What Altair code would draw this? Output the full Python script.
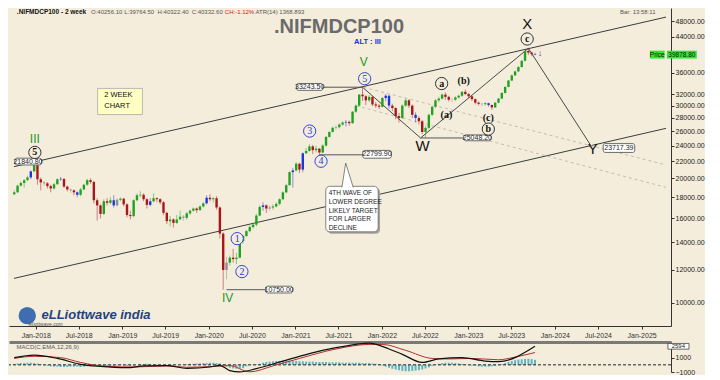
import altair as alt
import pandas as pd

BG = "#F4EDDC"

# ---------------- 2-week OHLC bars ----------------
START = "2017-10-02"
first_open = 18300
closes = [
    18500, 19200, 19500, 19800, 20100, 20800, 21500, 19900, 19550, 19450,
    19150, 18900, 19350, 19900, 19950, 19100, 18800, 18700, 18500, 18250,
    18800, 19300, 19800, 19600, 17700, 17200, 16400, 17600, 17450, 17700,
    17200, 17750, 17850, 17300, 16300, 16200, 17700, 18200, 18250, 17800,
    17250, 17600, 17900, 17800, 17500, 16500, 15750, 15900, 15600, 15900,
    16150, 16050, 16450, 16700, 16900, 16750, 17100, 17400, 17950, 17800,
    17900, 17000, 14700, 12000, 12500, 12850, 12750, 12850, 14100, 14500,
    14900, 15250, 15450, 16250, 17050, 17200, 16900, 17000, 17100, 17350,
    17800, 18500, 19250, 20700, 20900, 21700, 21000, 23000, 23300, 23900,
    23400, 23600, 23100, 24000, 25200, 25900, 26500, 26600, 27000, 27300,
    27400, 27200, 29000, 30000, 31900, 31600, 30900, 31500, 30200, 30000,
    29800, 31300, 31700, 30000, 29600, 28300, 28000, 30000, 30900, 30000,
    28500, 28000, 27500, 25900, 26500, 28500, 29800, 30900, 31200, 31900,
    31500, 31000, 31000, 31400, 31700, 32400, 32000, 31600, 31100, 30500,
    30300, 30250, 30400, 30100, 29700, 30500, 31200, 32200, 33300, 34500,
    35500, 36300, 37200, 38500, 40700, 40300, 40000, 39879,
]
highs = [
    18700, 19300, 19650, 19900, 20300, 20900, 21840.8, 21600, 20100, 19700,
    19600, 19300, 19500, 20000, 20150, 19950, 19200, 18900, 18800, 18600,
    18950, 19400, 19950, 20000, 19700, 17900, 17300, 17800, 17900, 18000,
    18200, 17900, 18000, 17950, 17400, 16700, 17800, 18400, 18600, 18400,
    17900, 17900, 18400, 18000, 17900, 17600, 16600, 16200, 16000, 16300,
    16700, 16300, 16600, 16800, 17000, 17000, 17200, 17500, 18200, 18300,
    18000, 18100, 17100, 14800, 12900, 13000, 13500, 13200, 14200, 14600,
    15000, 15400, 15600, 16400, 17200, 17500, 17300, 17200, 17300, 17500,
    17900, 18600, 19400, 20800, 21200, 21900, 21800, 23100, 23700, 24200,
    24100, 24000, 23700, 24200, 25300, 26000, 26700, 26900, 27200, 27500,
    27700, 27600, 29100, 30200, 32000, 33243.5, 31800, 31800, 31600, 30600,
    30300, 31500, 32000, 31900, 30300, 29700, 28800, 30200, 31200, 31100,
    30200, 28900, 28300, 27700, 26800, 28700, 30000, 31100, 31500, 32100,
    32300, 31700, 31300, 31600, 31900, 32500, 32800, 32200, 31700, 31200,
    30700, 30500, 30600, 30500, 30200, 30600, 31300, 32300, 33400, 34600,
    35700, 36500, 37400, 38700, 40800, 41300, 40500, 40322.4,
]
lows = [
    18200, 18450, 19100, 19000, 19700, 19900, 20700, 19300, 18700, 19200,
    18900, 18500, 18800, 19300, 19700, 18950, 18600, 18450, 18200, 18000,
    18100, 18700, 19200, 19400, 17400, 15800, 16000, 16300, 17200, 17300,
    17000, 17100, 17600, 17100, 16100, 15900, 16100, 17600, 18000, 17600,
    16900, 17100, 17500, 17500, 17300, 16300, 15500, 15300, 15200, 15500,
    15900, 15800, 15900, 16300, 16600, 16500, 16700, 17000, 17300, 17600,
    17500, 16800, 14300, 10750, 11400, 12300, 12500, 12400, 12800, 13900,
    14400, 14800, 15100, 15300, 16200, 16700, 16500, 16700, 16800, 17000,
    17200, 17700, 18400, 19200, 19000, 20800, 20600, 20700, 22900, 23200,
    22900, 23100, 22799.9, 23000, 23900, 25100, 25800, 26200, 26400, 26800,
    26700, 26800, 27100, 28800, 29800, 30800, 30100, 30600, 29900, 29600,
    29400, 29700, 30800, 29500, 29100, 27800, 27300, 27900, 29800, 29600,
    28000, 27300, 27000, 25600, 25048.2, 26300, 28300, 29600, 30600, 31000,
    31000, 30700, 30600, 30800, 31200, 31500, 31800, 31300, 30800, 30200,
    30000, 29900, 30000, 29800, 29300, 29600, 30400, 31100, 32100, 33200,
    34400, 35400, 36200, 37100, 38400, 39800, 39500, 39764.5,
]
blue_bars = [5, 14, 19, 30, 41, 58, 75, 84, 87, 100, 112, 113, 121, 143, 157]
gray_bars = [9, 17, 31, 51, 64, 77, 97, 132, 141]

# ---------------- MACD(12,26,9) panel ----------------
hist_vals = [
    150, 200, 250, 250, 300, 300, 250, 200, 100,
    -50, -150, -200, -250, -250, -300, -300, -300, -250, -250, -250, -300, -250, -200, -200,
    -150, -200, -250, -300, -250, -200, -150, -100, -100, -100, -150, -200,
    -100, 0, 100, 100, 150, 100, 50, 50, 0, -50, -100, -150, -100, -50, 0,
    50, 100, 150, 150, 200, 200, 250, 250, 300, 300, 250, 200, 100,
    -200, -400, -500, -550, -500, -450, -200, -50, 50,
    100, 150, 300, 400, 450, 500, 550, 550, 600, 600,
    600, 550, 550, 500, 500, 450, 450, 450, 400, 400,
    400, 400, 350, 350, 350, 350, 300, 300, 300, 300,
    300, 300, 250, 250, 250, 200, 150, 100,
    -100, -250, -400, -550, -650, -750, -850, -900, -900, -850, -800, -750, -650, -500, -350, -150,
    50, 150, 250, 300, 300, 300, 250, 200, 150, 100,
    -50, -100, -150, -200, -250, -250, -250, -200, -150, -50,
    100, 250, 400, 550, 650, 750, 800, 850, 850, 800, 700,
]
macd_idx = [0, 6, 13, 20, 26, 34, 39, 46, 52, 59, 62, 65, 68, 73, 81, 89, 97,
            105, 107, 113, 117, 123, 128, 135, 142, 146, 157]
macd_vals = [1000, 1350, 900, 75, -225, -400, -150, -110, -490, -300, -75, -800,
             -980, -530, 530, 1580, 2400, 2970, 3045, 2220, 1470, 340, 830, 1015,
             530, 450, 2594]
signal_idx = [0, 6, 14, 20, 28, 36, 46, 52, 60, 65, 71, 78, 86, 97, 107, 111,
              118, 126, 131, 138, 146, 151, 157]
signal_vals = [900, 1200, 1015, 340, -225, -300, -150, -340, -225, -110, -980,
               -150, 900, 2220, 2860, 2860, 2030, 900, 830, 900, 715, 1090, 1730]

y_ticks = [10000, 12000, 14000, 16000, 18000, 20000, 22000, 24000, 26000,
           28000, 30000, 32000, 36000, 44000, 48000]

# ---------------- annotation data ----------------
channel_dates = ["2017-10-01", "2025-04-14"]
upper_channel = [21350, 49140]
lower_channel = [11450, 26430]
dash1_dates = ["2021-10-16", "2025-04-14"]
dash1_prices = [33220, 21550]
dash2_dates = ["2021-09-14", "2025-04-14"]
dash2_prices = [29970, 19020]
path_dates = ["2021-10-11", "2022-06-13", "2023-09-11", "2024-05-30"]
path_prices = [33243.5, 25048.2, 41300, 24100]

level_start = ["2021-04-27", "2021-04-12", "2022-06-13", "2020-03-16"]
level_end = ["2021-10-11", "2021-10-11", "2022-12-12", "2020-08-28"]
level_price = [33243.5, 22799.9, 25048.2, 10750]

box_text = ["21840.80", "33243.50", "22799.90", "25048.20", "10750.00", "23717.39"]
box_x0 = ["2017-10-05", "2021-01-05", "2021-10-12", "2022-12-12", "2020-08-28", "2024-07-23"]
box_x1 = ["2018-01-25", "2021-04-27", "2022-02-10", "2023-04-07", "2020-12-20", "2024-12-03"]
box_y0 = [21550, 32670, 22380, 24660, 10555, 23110]
box_y1 = [22380, 33940, 23370, 25480, 10960, 24270]
box_tx = ["2017-11-29", "2021-03-02", "2021-12-11", "2023-02-08", "2020-10-24", "2024-09-27"]
box_ty = [21960, 33300, 22870, 25070, 10760, 23680]

green_txt = ["III", "IV", "V"]
green_dates = ["2017-12-28", "2020-03-21", "2021-10-16"]
green_prices = [24930, 10270, 38200]
black_txt = ["W", "X", "Y"]
black_dates = ["2022-06-22", "2023-09-06", "2024-06-09"]
black_prices = [24010, 47180, 23490]
cblue_txt = ["1", "2", "3", "4", "5"]
cblue_dates = ["2020-04-30", "2020-05-20", "2021-03-02", "2021-04-19", "2021-10-20"]
cblue_prices = [14290, 11890, 26030, 22000, 34860]
cblack_txt = ["5", "a", "c", "b"]
cblack_dates = ["2017-12-28", "2022-09-10", "2023-09-06", "2023-03-26"]
cblack_prices = [23110, 33930, 43490, 26320]
paren_txt = ["(a)", "(b)", "(c)"]
paren_dates = ["2022-09-30", "2022-12-12", "2023-03-26"]
paren_prices = [28540, 34480, 27930]

callout_lines = ["4TH WAVE OF", "LOWER DEGREE", "LIKELY TARGET", "FOR LARGER", "DECLINE"]
callout_prices = [18430, 17550, 16710, 15920, 15160]

header_items = ["O:40256.10", "L:39764.50", "H:40322.40", "C:40332.60", "ATR(14) 1368.893"]
header_dates = ["2018-08-22", "2019-01-09", "2019-05-30", "2019-10-21", "2020-07-16"]

# ---------------- frames ----------------
dates = pd.date_range(START, periods=len(closes), freq="14D")
opens = [first_open] + closes[:-1]
kinds = []
for i, (o, c) in enumerate(zip(opens, closes)):
    if i in blue_bars:
        kinds.append("blue")
    elif i in gray_bars:
        kinds.append("gray")
    elif c >= o:
        kinds.append("up")
    else:
        kinds.append("down")
candles = pd.DataFrame({"date": dates, "open": opens, "close": closes,
                        "high": highs, "low": lows, "kind": kinds})

D = pd.to_datetime
W, H = 662, 318

xscale = alt.Scale(domain=[alt.DateTime(year=2017, month=10, date=1),
                           alt.DateTime(year=2025, month=4, date=14)])
yscale = alt.Scale(type="log", domain=[8780, 51700], nice=False)
cscale = alt.Scale(domain=["up", "down", "blue", "gray"],
                   range=["#22A022", "#A8161A", "#1F35D8", "#8E8E8E"])

xvals = [alt.DateTime(year=y, month=m, date=1)
         for y in range(2018, 2026) for m in (1, 7) if not (y == 2025 and m == 7)]
x_axis = alt.Axis(values=xvals, format="%b-%Y", labelFontSize=7, tickSize=3,
                  labelPadding=2, domainColor="#333", tickColor="#333",
                  labelColor="#333", labelOverlap=False, labelFlush=False,
                  title=None, grid=False)
y_axis = alt.Axis(orient="right", values=y_ticks, format=".2f", labelFontSize=7,
                  tickSize=3, labelPadding=1, domainColor="#333", tickColor="#333",
                  labelColor="#222", labelOverlap=False, title=None, grid=False)


def X(f="date"):
    return alt.X(f"{f}:T", scale=xscale, axis=x_axis)


def Y(f="price"):
    return alt.Y(f"{f}:Q", scale=yscale, axis=y_axis)


# lines
chan = pd.DataFrame({"date": D(channel_dates * 2),
                     "price": upper_channel + lower_channel,
                     "id": ["u", "u", "l", "l"]})
chan_l = alt.Chart(chan).mark_line(color="#3C3C3C", strokeWidth=1).encode(
    x=X(), y=Y(), detail="id:N")
dash = pd.DataFrame({"date": D(dash1_dates + dash2_dates),
                     "price": dash1_prices + dash2_prices,
                     "id": ["a", "a", "b", "b"]})
dash_l = alt.Chart(dash).mark_line(color="#C4BDB0", strokeWidth=1, strokeDash=[3, 3]).encode(
    x=X(), y=Y(), detail="id:N")
path = pd.DataFrame({"date": D(path_dates), "price": path_prices})
path_l = alt.Chart(path).mark_line(color="#4A4A4A", strokeWidth=1).encode(x=X(), y=Y())
lev = pd.DataFrame({"d0": D(level_start), "d1": D(level_end), "price": level_price})
lev_l = alt.Chart(lev).mark_rule(color="#555", strokeWidth=1).encode(
    x=X("d0"), x2="d1:T", y=Y())

# candles
wicks = alt.Chart(candles).mark_rule(strokeWidth=1, opacity=0.5).encode(
    x=X(), y=Y("low"), y2="high:Q",
    color=alt.Color("kind:N", scale=cscale, legend=None))
bodies = alt.Chart(candles).mark_bar(size=2.4).encode(
    x=X(), y=Y("open"), y2="close:Q",
    color=alt.Color("kind:N", scale=cscale, legend=None))

# value boxes
boxes = pd.DataFrame({"x0": D(box_x0), "x1": D(box_x1), "y0": box_y0, "y1": box_y1,
                      "tx": D(box_tx), "ty": box_ty, "t": box_text})
box_r = alt.Chart(boxes).mark_rect(fill="white", stroke="#444", strokeWidth=0.8,
                                   cornerRadius=2).encode(
    x=X("x0"), x2="x1:T", y=Y("y0"), y2="y1:Q")
box_t = alt.Chart(boxes).mark_text(fontSize=7, color="#222").encode(
    x=X("tx"), y=Y("ty"), text="t:N")


def labels(txts, ds, ps, **kw):
    df = pd.DataFrame({"date": D(ds), "price": ps, "t": txts})
    return alt.Chart(df).mark_text(**kw).encode(x=X(), y=Y(), text="t:N")


def circles(ds, ps, stroke):
    df = pd.DataFrame({"date": D(ds), "price": ps})
    return alt.Chart(df).mark_point(shape="circle", size=150, filled=True, fill=BG,
                                    stroke=stroke, strokeWidth=1, opacity=1).encode(x=X(), y=Y())


green_l = labels(green_txt, green_dates, green_prices, fontSize=12, color="#1E9A1E")
black_l = labels(black_txt, black_dates, black_prices, fontSize=15, color="#111")
cb_c = circles(cblue_dates, cblue_prices, "#3046E0")
cb_t = labels(cblue_txt, cblue_dates, cblue_prices, fontSize=10, color="#2238D8",
              font="Liberation Serif")
ck_c = circles(cblack_dates, cblack_prices, "#333")
ck_t = labels(cblack_txt, cblack_dates, cblack_prices, fontSize=10, color="#111",
              font="Liberation Serif", fontWeight="bold")
par_t = labels(paren_txt, paren_dates, paren_prices, fontSize=10, color="#111",
               font="Liberation Serif", fontWeight="bold")
alt_t = labels(["ALT : III"], ["2021-11-01"], [42800], fontSize=7.5, color="#1A2FE0",
               fontWeight="bold")
title_t = labels([".NIFMDCP100"], ["2021-07-04"], [46500], fontSize=20, color="#6A6A6A",
                 fontWeight="bold")
arrow_t = labels(["↓"], ["2023-10-30"], [40300], fontSize=9, color="#1F35D8",
                 fontWeight="bold")

# header
hdr0 = labels([".NIFMDCP100 - 2 week"], ["2017-10-13"], [50610], fontSize=6.5,
              color="#111", fontWeight="bold", align="left")
hdr1 = labels(header_items, header_dates, [50610] * len(header_items), fontSize=6,
              color="#555", align="left")
hdr2 = labels(["CH:-1.12%"], ["2020-03-09"], [50610], fontSize=6, color="#E01010",
              align="left")
hdr3 = labels(["Bar: 13:58:11"], ["2025-03-01"], [50610], fontSize=6, color="#555",
              align="right")

# 2 week chart box
wk_r = alt.Chart(pd.DataFrame({"x0": D(["2018-09-19"]), "x1": D(["2019-03-27"]),
                               "y0": [28540], "y1": [33020]})).mark_rect(
    fill="#FFFFC4", stroke="#AAA", strokeWidth=0.8).encode(
    x=X("x0"), x2="x1:T", y=Y("y0"), y2="y1:Q")
wk_t = labels(["2 WEEK", "CHART"], ["2018-10-17", "2018-10-17"], [31800, 29970],
              fontSize=7.5, color="#111", align="left")

# callout bubble
sh_r = alt.Chart(pd.DataFrame({"x0": D(["2021-05-17"]), "x1": D(["2021-12-24"]),
                               "y0": [14680], "y1": [18940]})).mark_rect(
    fill="#A8A39A", cornerRadius=4).encode(x=X("x0"), x2="x1:T", y=Y("y0"), y2="y1:Q")
co_r = alt.Chart(pd.DataFrame({"x0": D(["2021-05-09"]), "x1": D(["2021-12-16"]),
                               "y0": [14840], "y1": [19130]})).mark_rect(
    fill="white", stroke="#666", strokeWidth=0.8, cornerRadius=4).encode(
    x=X("x0"), x2="x1:T", y=Y("y0"), y2="y1:Q")
ptr = pd.DataFrame({"date": D(["2021-07-16", "2021-08-01", "2021-09-02"]),
                    "lo": [19000, 19000, 19000], "price": [19000, 21780, 19000]})
ptr_a = alt.Chart(ptr).mark_area(color="white", opacity=1).encode(
    x=X(), y=Y("lo"), y2="price:Q")
ptr_l = alt.Chart(ptr).mark_line(color="#666", strokeWidth=0.8).encode(x=X(), y=Y())
co_t = labels(callout_lines, ["2021-05-21"] * 5, callout_prices, fontSize=6.5,
              color="#222", align="left")

# price tag
tag_r = alt.Chart(pd.DataFrame({"x0": D(["2025-02-05", "2025-04-18"]),
                                "x1": D(["2025-04-08", "2025-08-22"]),
                                "y0": [39000, 39000], "y1": [40750, 40750]})).mark_rect(
    fill="#2BEA2B").encode(x=X("x0"), x2="x1:T", y=Y("y0"), y2="y1:Q")
tag_t = labels(["Price", "39878.80"], ["2025-03-08", "2025-06-20"], [39880, 39880],
               fontSize=6.5, color="#111")

# logo
logo_c = alt.Chart(pd.DataFrame({"date": D(["2017-11-26"]), "price": [9300]})).mark_point(
    shape="circle", size=300, filled=True, color="#3E6DB0", opacity=1).encode(x=X(), y=Y())
logo_t = labels(["eLLiottwave india"], ["2018-01-25"], [9350], fontSize=13,
                color="#24427E", fontStyle="italic", fontWeight="bold", align="left")
logo_s = labels(["elliottwave.com"], ["2017-12-01"], [8900], fontSize=5, color="#555",
                align="left")

main = alt.layer(
    chan_l, dash_l, path_l, lev_l, wicks, bodies,
    box_r, box_t, wk_r, wk_t, sh_r, co_r, ptr_a, ptr_l, co_t,
    green_l, black_l, cb_c, cb_t, ck_c, ck_t, par_t, alt_t, title_t, arrow_t,
    hdr0, hdr1, hdr2, hdr3, tag_r, tag_t, logo_c, logo_t, logo_s,
).properties(width=W, height=H)

# ---------------- MACD panel ----------------
hist = pd.DataFrame({"date": dates, "v": hist_vals})
mline = pd.DataFrame({"date": dates[macd_idx], "v": macd_vals})
sline = pd.DataFrame({"date": dates[signal_idx], "v": signal_vals})
mscale = alt.Scale(domain=[-1000, 3200], nice=False)
m_xaxis = alt.Axis(orient="top", labels=False, ticks=False, domainWidth=3,
                   domainColor="#7A7A7A", title=None, grid=False)
m_yaxis = alt.Axis(orient="right", values=[1000, -1000], format="d", labelFontSize=7,
                   tickSize=3, labelPadding=1, domainColor="#333", tickColor="#333",
                   labelColor="#222", title=None, grid=False)


def MX(f="date"):
    return alt.X(f"{f}:T", scale=xscale, axis=m_xaxis)


def MY(f="v"):
    return alt.Y(f"{f}:Q", scale=mscale, axis=m_yaxis)


m_bars = alt.Chart(hist).mark_bar(size=2, color="#5DB6C3").encode(x=MX(), y=MY())
m_zero = alt.Chart(pd.DataFrame({"v": [0]})).mark_rule(
    color="#222", strokeDash=[3, 2], strokeWidth=1).encode(y=MY())
m_sig = alt.Chart(sline).mark_line(color="#B0302A", strokeWidth=1, interpolate="monotone").encode(
    x=MX(), y=MY())
m_macd = alt.Chart(mline).mark_line(color="#111", strokeWidth=1.2, interpolate="monotone").encode(
    x=MX(), y=MY())
m_lab = alt.Chart(pd.DataFrame({"date": D(["2017-10-12"]), "v": [2450],
                                "t": ["MACD(C,EMA,12,26,9)"]})).mark_text(
    fontSize=6, color="#555", align="left").encode(x=MX(), y=MY(), text="t:N")
m_box = alt.Chart(pd.DataFrame({"x0": D(["2025-04-22"]), "x1": D(["2025-07-20"]),
                                "y0": [2200], "y1": [3000]})).mark_rect(
    fill="white", stroke="#444", strokeWidth=0.8).encode(
    x=MX("x0"), x2="x1:T", y=MY("y0"), y2="y1:Q")
m_boxt = alt.Chart(pd.DataFrame({"date": D(["2025-06-05"]), "v": [2594],
                                 "t": ["2594"]})).mark_text(
    fontSize=6, color="#222").encode(x=MX(), y=MY(), text="t:N")

macd = alt.layer(m_bars, m_zero, m_sig, m_macd, m_lab, m_box, m_boxt).properties(
    width=W, height=30)

chart = alt.vconcat(main, macd, spacing=2).properties(
    padding=0, background=BG
).configure(font="Liberation Sans").configure_view(strokeWidth=0)

chart.save("out.html", embed_options={"renderer": "svg", "actions": False})
